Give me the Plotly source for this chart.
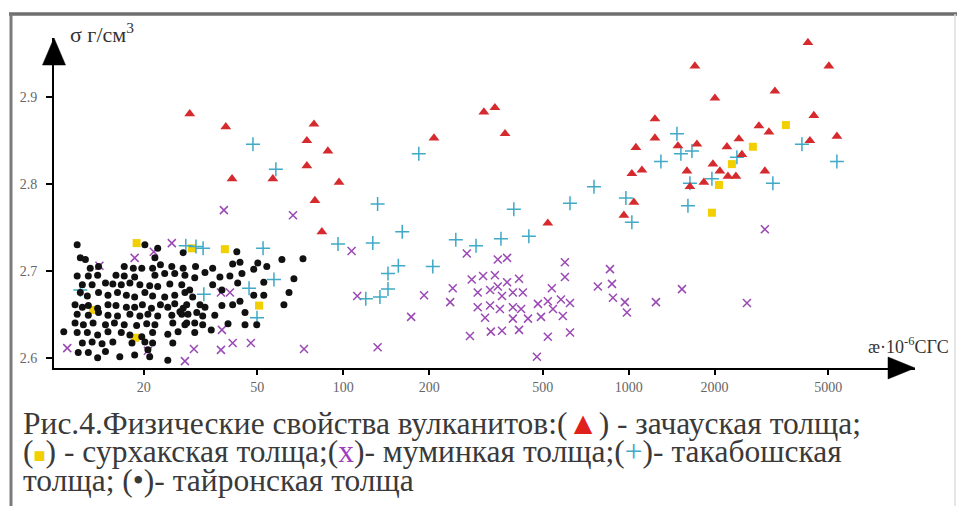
import plotly.graph_objects as go

# Magnetic susceptibility (x10^-6 CGS units) and density (g/cm3) of volcanic rocks

# зачауская толща (red triangles)
zach_k = [29.0, 38.8, 79.0, 74.6, 88.4, 74.6, 40.8, 56.7, 96.7, 79.6, 84.2,
          208, 311, 340, 369, 521, 1060, 1026, 1043, 962, 1236, 1236, 1488,
          1734, 1706, 2005, 2209, 2433, 2493, 2859, 3100, 3253, 4245, 5027,
          4453, 4313, 5363, 1113, 1600, 1973, 2087, 2227, 2375, 3000, 1639, 1834]
zach_s = [2.881, 2.866, 2.869, 2.850, 2.838, 2.821, 2.806, 2.806, 2.802, 2.781, 2.745,
          2.853, 2.883, 2.888, 2.858, 2.755, 2.842, 2.812, 2.779, 2.764, 2.875, 2.853, 2.844,
          2.846, 2.936, 2.899, 2.843, 2.852, 2.834, 2.867, 2.860, 2.907, 2.963, 2.936,
          2.879, 2.850, 2.855, 2.816, 2.815, 2.823, 2.815, 2.809, 2.809, 2.815, 2.797, 2.802]

# сурхакская толща (yellow squares)
surkh_k = [18.9, 29.5, 38.5, 50.7, 18.7, 13.3, 3555, 2723, 2299, 2071, 1957]
surkh_s = [2.732, 2.726, 2.725, 2.660, 2.623, 2.655, 2.868, 2.843, 2.823, 2.799, 2.767]

# муминкая толща (purple crosses)
mumin_k = [38.2, 66.7, 25.1, 18.6, 14.0, 21.7, 37.3, 40.1, 37.6, 10.8, 20.7, 30.0,
           37.3, 41.0, 47.5, 27.9, 72.9, 107, 112, 132, 173, 192, 242, 237, 271,
           278, 282, 296, 296, 309, 314, 327, 327, 329, 340, 348, 348, 360, 354,
           360, 375, 375, 393, 393, 393, 413, 413, 426, 420, 444, 477, 481, 493,
           521, 521, 538, 543, 579, 588, 598, 598, 623, 623, 780, 860, 874, 881,
           970, 986, 1246, 1537, 2596, 3000]
mumin_s = [2.770, 2.764, 2.732, 2.715, 2.706, 2.722, 2.675, 2.675, 2.632, 2.611, 2.608, 2.610,
           2.609, 2.617, 2.617, 2.596, 2.610, 2.723, 2.671, 2.612, 2.647, 2.672, 2.680, 2.664, 2.720,
           2.625, 2.690, 2.675, 2.658, 2.694, 2.646, 2.678, 2.660, 2.630, 2.695, 2.682, 2.713, 2.671, 2.656,
           2.631, 2.715, 2.687, 2.675, 2.658, 2.645, 2.691, 2.632, 2.675, 2.656, 2.645, 2.601, 2.662, 2.647,
           2.665, 2.624, 2.680, 2.656, 2.667, 2.648, 2.710, 2.693, 2.663, 2.629, 2.682, 2.702, 2.685, 2.669,
           2.664, 2.652, 2.664, 2.679, 2.663, 2.748]

# такабошская толща (cyan plus signs)
takab_k = [48.3, 58.1, 28.1, 30.5, 32.3, 52.4, 57.2, 32.5, 46.8, 49.9, 12.0,
           184, 132, 95.9, 127, 161, 156, 143.5, 143.5, 134.5, 120, 206, 248, 292,
           357, 396, 447, 623, 756, 978, 1026, 1476, 1297, 1524, 1666, 1639, 1613,
           1957, 2394, 4045, 5363, 3200]
takab_s = [2.846, 2.817, 2.729, 2.728, 2.726, 2.726, 2.690, 2.673, 2.680, 2.646, 2.678,
           2.835, 2.777, 2.731, 2.732, 2.745, 2.706, 2.697, 2.679, 2.670, 2.668, 2.705, 2.736, 2.729,
           2.737, 2.771, 2.740, 2.778, 2.797, 2.784, 2.756, 2.858, 2.826, 2.835, 2.838, 2.801, 2.775,
           2.806, 2.831, 2.846, 2.826, 2.801]

# тайронская толща (black dots)
tair_k = [11.7, 20.2, 22.4, 12.0, 12.5, 13.0, 13.9, 17.1, 18.4, 19.7, 21.5, 22.9, 25.1, 27.5, 21.9,
          11.7, 12.8, 13.8, 16.0, 17.1, 18.6, 21.9, 23.7, 25.7, 27.9,
          12.2, 13.2, 14.7, 15.6, 16.7, 17.9, 19.4, 21.0, 22.4, 24.7, 27.2,
          12.0, 12.7, 13.9, 15.0, 16.2, 17.4, 18.6, 20.2, 21.5, 23.7, 25.7, 27.9,
          11.5, 12.2, 12.8, 13.8, 15.0, 16.0, 17.4, 18.6, 19.8, 21.3, 22.9, 24.3, 25.7, 27.5,
          11.7, 12.8, 13.9, 15.0, 16.2, 17.9, 19.4, 20.7, 22.4, 25.1, 27.2,
          11.5, 12.3, 13.3, 14.7, 15.8, 17.1, 18.9, 20.5, 21.9, 25.3, 27.9,
          10.5, 11.7, 12.7, 13.8, 15.0, 16.7, 17.9, 19.7, 21.5, 24.3, 26.4,
          12.2, 13.2, 14.3, 15.6, 18.2, 20.2, 21.5, 25.3,
          11.8, 12.8, 13.8, 14.7, 16.5, 18.6, 21.0, 24.3, 20.7,
          27.5, 42.4, 43.5, 41.0, 61.0, 72.3, 54.0, 50.2, 48.6, 30.4, 34.9, 32.8,
          37.0, 40.1, 44.2, 30.2, 42.7, 52.7, 67.2, 29.0, 29.7, 31.5, 32.8, 37.6,
          41.0, 43.5, 48.6, 52.7, 64.6, 62.0, 28.6, 30.7, 32.2, 28.3, 30.2, 32.2,
          45.3, 39.5, 45.3, 49.8, 30.2, 28.3, 26.8, 34.9, 37.6, 35.5, 34.5]
tair_s = [2.730, 2.730, 2.726, 2.715, 2.713, 2.703, 2.705, 2.705, 2.703, 2.703, 2.703, 2.707, 2.705, 2.703, 2.715,
          2.694, 2.694, 2.695, 2.695, 2.694, 2.693, 2.695, 2.697, 2.697, 2.695,
          2.684, 2.684, 2.686, 2.685, 2.684, 2.686, 2.684, 2.683, 2.682, 2.685, 2.684,
          2.675, 2.671, 2.675, 2.672, 2.675, 2.672, 2.670, 2.675, 2.671, 2.670, 2.672, 2.675,
          2.661, 2.658, 2.660, 2.657, 2.661, 2.660, 2.658, 2.658, 2.661, 2.657, 2.661, 2.658, 2.662, 2.657,
          2.650, 2.649, 2.652, 2.649, 2.648, 2.650, 2.648, 2.650, 2.648, 2.649, 2.650,
          2.640, 2.638, 2.640, 2.638, 2.640, 2.638, 2.637, 2.639, 2.638, 2.640, 2.638,
          2.630, 2.629, 2.629, 2.626, 2.630, 2.629, 2.626, 2.624, 2.629, 2.627, 2.630,
          2.617, 2.618, 2.616, 2.618, 2.617, 2.618, 2.617, 2.617,
          2.606, 2.606, 2.600, 2.607, 2.601, 2.603, 2.601, 2.597, 2.609,
          2.721, 2.722, 2.710, 2.708, 2.713, 2.714, 2.705, 2.709, 2.702, 2.705, 2.703, 2.698,
          2.693, 2.694, 2.697, 2.692, 2.686, 2.687, 2.691, 2.678, 2.670, 2.661, 2.658, 2.660,
          2.661, 2.665, 2.672, 2.672, 2.675, 2.661, 2.650, 2.652, 2.648, 2.640, 2.640, 2.638,
          2.652, 2.639, 2.638, 2.638, 2.629, 2.661, 2.653, 2.684, 2.678, 2.649, 2.632]

x_ticks = [20, 50, 100, 200, 500, 1000, 2000, 5000]
y_ticks = [2.6, 2.7, 2.8, 2.9]

SERIF = "Liberation Serif"
RED, YELLOW, PURPLE, CYAN, BLACK = "#d52a2e", "#f2cf00", "#9a48b4", "#3fa9c6", "#111111"

fig = go.Figure()


def add_points(k, s, symbol, size, color, lw=0.0):
    fig.add_trace(go.Scatter(
        x=k, y=s, mode="markers", showlegend=False, hoverinfo="skip",
        marker=dict(symbol=symbol, size=size, color=color,
                    line=dict(width=lw, color=color)),
    ))


add_points(mumin_k, mumin_s, "x-thin", 8, PURPLE, 1.5)
add_points(surkh_k, surkh_s, "square", 8, YELLOW)
add_points(takab_k, takab_s, "cross-thin", 10, CYAN, 1.5)
add_points(tair_k, tair_s, "circle", 7, BLACK)
add_points(zach_k, zach_s, "triangle-up", 9.5, RED)

L, R, T, B = 54, 42, 38, 138
W, H = 957, 506
PW, PH = W - L - R, H - T - B


def px(x):
    return (x - L) / PW


def py(y):
    return (H - B - y) / PH


shapes = [
    # frame
    dict(type="line", xref="paper", yref="paper", x0=px(9), x1=px(957), y0=py(14), y1=py(14),
         line=dict(color="#6e6e6e", width=3.5)),
    dict(type="line", xref="paper", yref="paper", x0=px(11), x1=px(11), y0=py(14), y1=py(506),
         line=dict(color="#7a7a7a", width=3)),
    dict(type="line", xref="paper", yref="paper", x0=px(955), x1=px(955), y0=py(14), y1=py(506),
         line=dict(color="#dcdcdc", width=1.5)),
    # axis arrowheads
    dict(type="path", xref="paper", yref="paper",
         path=f"M {px(42.5)} {py(65)} L {px(65.5)} {py(65)} L {px(54)} {py(38)} Z",
         fillcolor="black", line=dict(color="black", width=0.5)),
    dict(type="path", xref="paper", yref="paper",
         path=f"M {px(888)} {py(357)} L {px(888)} {py(379)} L {px(915)} {py(368)} Z",
         fillcolor="black", line=dict(color="black", width=0.5)),
]

caption_font = dict(family=SERIF, size=31.5, color="#3a3a3a")
caption = [
    ("Рис.4.Физические свойства вулканитов:(<span style='color:#e0201c'>▲</span>) - зачауская толща;", 423),
    ("(<span style='color:#f2cf00;font-size:20px'>■</span>) - сурхакская толща;(<span style='color:#a03cc0'>x</span>)- "
     "муминкая толща;(<span style='color:#3fa9c6'>+</span>)- такабошская", 452),
    ("толща; (•)- тайронская толща", 480),
]

annotations = [
    dict(text="σ г/см<sup>3</sup>", xref="paper", yref="paper", x=px(68), y=py(33),
         xanchor="left", yanchor="middle", showarrow=False,
         font=dict(family=SERIF, size=22, color="#333")),
    dict(text="æ·10<sup>-6</sup>СГС", xref="paper", yref="paper", x=px(866), y=py(345),
         xanchor="left", yanchor="middle", showarrow=False,
         font=dict(family=SERIF, size=18, color="#333")),
]
for text, yy in caption:
    annotations.append(dict(text=text, xref="paper", yref="paper", x=px(21), y=py(yy),
                            xanchor="left", yanchor="middle", showarrow=False,
                            font=caption_font))

fig.update_layout(
    width=W, height=H, autosize=False,
    margin=dict(l=L, r=R, t=T, b=B),
    paper_bgcolor="white", plot_bgcolor="white",
    font=dict(family=SERIF),
    xaxis=dict(type="log", range=[0.987, 4.003], tickvals=x_ticks,
               ticktext=[str(v) for v in x_ticks],
               showline=True, linecolor="black", linewidth=2,
               ticks="outside", ticklen=5, tickwidth=1.5, tickcolor="black",
               showgrid=False, zeroline=False,
               tickfont=dict(family=SERIF, size=14, color="#666")),
    yaxis=dict(range=[2.5881, 2.9683], tickvals=y_ticks,
               ticktext=[f"{v:.1f}" for v in y_ticks],
               showline=True, linecolor="black", linewidth=2,
               ticks="outside", ticklen=6, tickwidth=1.5, tickcolor="black",
               ticklabelstandoff=6,
               showgrid=False, zeroline=False,
               tickfont=dict(family=SERIF, size=14, color="#666")),
    shapes=shapes,
    annotations=annotations,
)

fig.write_html("out.html")
